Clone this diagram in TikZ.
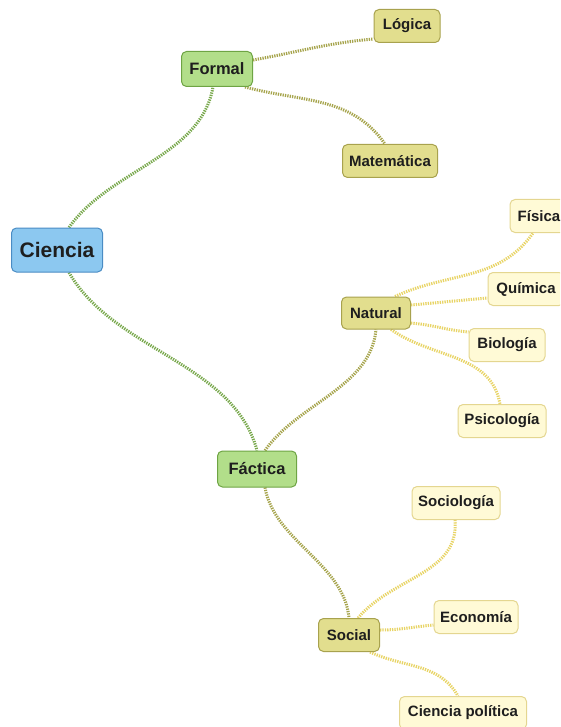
\documentclass[tikz,border=0pt]{standalone}
\usepackage{fontspec}
\setmainfont{Liberation Sans}
\usetikzlibrary{backgrounds}

\definecolor{rootfill}{HTML}{8CC8F0}
\definecolor{rootline}{HTML}{4A8CC4}
\definecolor{greenfill}{HTML}{B2DE8A}
\definecolor{greenline}{HTML}{6EA444}
\definecolor{olivefill}{HTML}{E2DE8E}
\definecolor{oliveline}{HTML}{A8A24E}
\definecolor{paleyfill}{HTML}{FFFAD6}
\definecolor{paleyline}{HTML}{E4D690}
\definecolor{txt}{HTML}{1E1E1E}
\definecolor{linkgreen}{HTML}{78A84C}
\definecolor{linkolive}{HTML}{A6A44C}
\definecolor{linkyellow}{HTML}{E8D466}

\tikzset{
  box/.style={draw, line width=1pt, rounded corners=5pt, align=center,
    inner sep=0pt, text=txt, font=\bfseries},
  rootbox/.style={box, fill=rootfill, draw=rootline, font=\bfseries\fontsize{21}{24}\selectfont},
  mainbox/.style={box, fill=greenfill, draw=greenline, font=\bfseries\fontsize{16.5}{19}\selectfont},
  midbox/.style={box, fill=olivefill, draw=oliveline, font=\bfseries\fontsize{15}{18}\selectfont},
  leafbox/.style={box, fill=paleyfill, draw=paleyline, font=\bfseries\fontsize{15}{18}\selectfont},
  link/.style={line width=3pt, dash pattern=on 1.3pt off 1.1pt},
  greenlink/.style={link, draw=linkgreen},
  olivelink/.style={link, draw=linkolive},
  yellowlink/.style={link, draw=linkyellow},
}

\begin{document}
\begin{tikzpicture}[x=1pt, y=-1pt]
  \useasboundingbox (0,0) rectangle (560,727);
  \clip (0,0) rectangle (560,727);

  % nodes
  \node[rootbox, minimum width=91pt, minimum height=44pt] (ciencia) at (57,250) {Ciencia};
  \node[mainbox, minimum width=71pt, minimum height=35pt] (formal) at (217,69) {Formal};
  \node[mainbox, minimum width=79pt, minimum height=36pt] (factica) at (257,469) {Fáctica};

  \node[midbox, minimum width=66pt, minimum height=33pt] (logica) at (407,26) {Lógica};
  \node[midbox, minimum width=95pt, minimum height=33pt] (matematica) at (390,161) {Matemática};
  \node[midbox, minimum width=69pt, minimum height=32pt] (natural) at (376,313) {Natural};
  \node[midbox, minimum width=61pt, minimum height=33pt] (social) at (349,635) {Social};

  \node[leafbox, minimum width=58pt, minimum height=33pt] (fisica) at (539,216) {Física};
  \node[leafbox, minimum width=76pt, minimum height=33pt] (quimica) at (526,289) {Química};
  \node[leafbox, minimum width=76pt, minimum height=33pt] (biologia) at (507,345) {Biología};
  \node[leafbox, minimum width=88pt, minimum height=33pt] (psicologia) at (502,421) {Psicología};
  \node[leafbox, minimum width=88pt, minimum height=33pt] (sociologia) at (456,503) {Sociología};
  \node[leafbox, minimum width=84pt, minimum height=33pt] (economia) at (476,617) {Economía};
  \node[leafbox, minimum width=127pt, minimum height=33pt] (cpolitica) at (463,713) {Ciencia política};

  % connectors (shifts: positive yshift moves up the page)
  \begin{scope}[on background layer]
    \draw[greenlink] ([xshift=12pt]ciencia.north) to[out=55, in=-100, looseness=0.9] ([xshift=-4pt]formal.south);
    \draw[greenlink] ([xshift=12pt]ciencia.south) to[out=-60, in=105, looseness=0.9] (factica.north);

    \draw[olivelink] ([yshift=9pt]formal.east) to[out=10, in=185] ([yshift=-13pt]logica.west);
    \draw[olivelink] ([xshift=-8pt]formal.south east) to[out=-15, in=125] ([xshift=-5pt]matematica.north);

    \draw[olivelink] ([xshift=8pt]factica.north) to[out=55, in=-95, looseness=0.9] (natural.south);
    \draw[olivelink] ([xshift=8pt]factica.south) to[out=-80, in=95, looseness=0.9] (social.north);

    \draw[yellowlink] ([xshift=19pt]natural.north) to[out=25, in=-125] ([xshift=-6pt]fisica.south);
    \draw[yellowlink] ([yshift=8pt]natural.east) to[out=5, in=185] ([yshift=-9pt]quimica.west);
    \draw[yellowlink] ([yshift=-10pt]natural.east) to[out=-5, in=175] ([yshift=13pt]biologia.west);
    \draw[yellowlink] ([xshift=-20pt]natural.south east) to[out=-35, in=100] ([xshift=-2pt]psicologia.north);

    \draw[yellowlink] ([xshift=9pt]social.north) to[out=50, in=-85] ([xshift=-1pt]sociologia.south);
    \draw[yellowlink] ([yshift=5pt]social.east) to[out=0, in=185] ([yshift=-8pt]economia.west);
    \draw[yellowlink] ([xshift=-10pt]social.south east) to[out=-25, in=120] ([xshift=-5pt]cpolitica.north);
  \end{scope}
\end{tikzpicture}
\end{document}
